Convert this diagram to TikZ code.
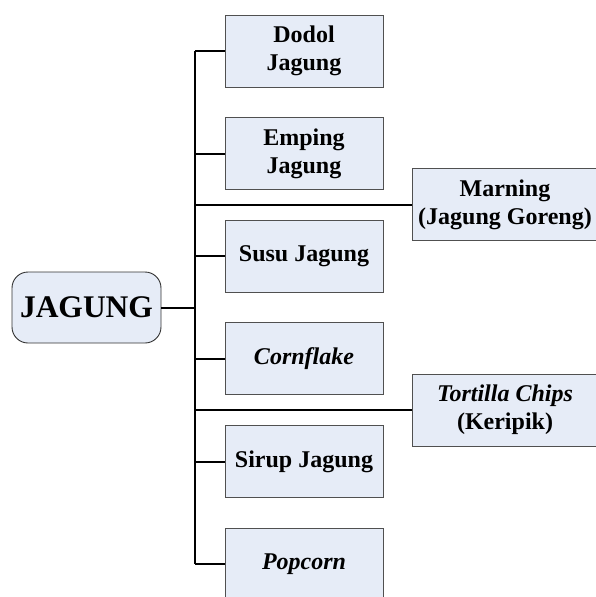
\documentclass[tikz,border=0pt]{standalone}
\usepackage{fontspec}
\setmainfont{Liberation Serif}
\definecolor{boxfill}{HTML}{E6ECF7}
\definecolor{boxline}{HTML}{505050}
\begin{document}
\begin{tikzpicture}[x=1pt,y=-1pt,
  item/.style={draw=boxline, line width=0.9pt, fill=boxfill, minimum width=158pt,
    minimum height=72pt, align=center, font=\fontsize{24}{28}\selectfont\bfseries, inner sep=0pt},
  side/.style={item, minimum width=186pt},
  root/.style={draw=black!80, line width=0.9pt, fill=boxfill, rounded corners=16pt,
    minimum width=149pt, minimum height=71pt, font=\fontsize{31.5}{36}\selectfont\bfseries, inner sep=0pt},
  link/.style={line width=2pt, black}]
\useasboundingbox (0,0) rectangle (596,597);
\begin{scope}
\clip (0,0) rectangle (596,597);
% main topic
\node[root] (jagung) at (86.5,307.5) {JAGUNG};
% products
\node[item] (dodol)   at (304,51)    {Dodol\\Jagung};
\node[item] (emping)  at (304,153.5) {Emping\\Jagung};
\node[item] (susu)    at (304,256)   {Susu Jagung};
\node[item] (corn)    at (304,358.5) {\textit{Cornflake}};
\node[item] (sirup)   at (304,461.5) {Sirup Jagung};
\node[item] (pop)     at (304,564)   {\textit{Popcorn}};
\node[side] (marning) at (505,204.5) {Marning\\(Jagung Goreng)};
\node[side] (chips)   at (505,410)   {\textit{Tortilla Chips}\\(Keripik)};
% connectors
\draw[link] (jagung.east) -- ++(34,0) coordinate (t);
\draw[link] (dodol.west -| t) -- (pop.west -| t);
\foreach \n in {dodol,emping,susu,corn,sirup,pop,marning,chips}
  \draw[link] (\n.west) -- (\n.west -| t);
\end{scope}
\end{tikzpicture}
\end{document}
